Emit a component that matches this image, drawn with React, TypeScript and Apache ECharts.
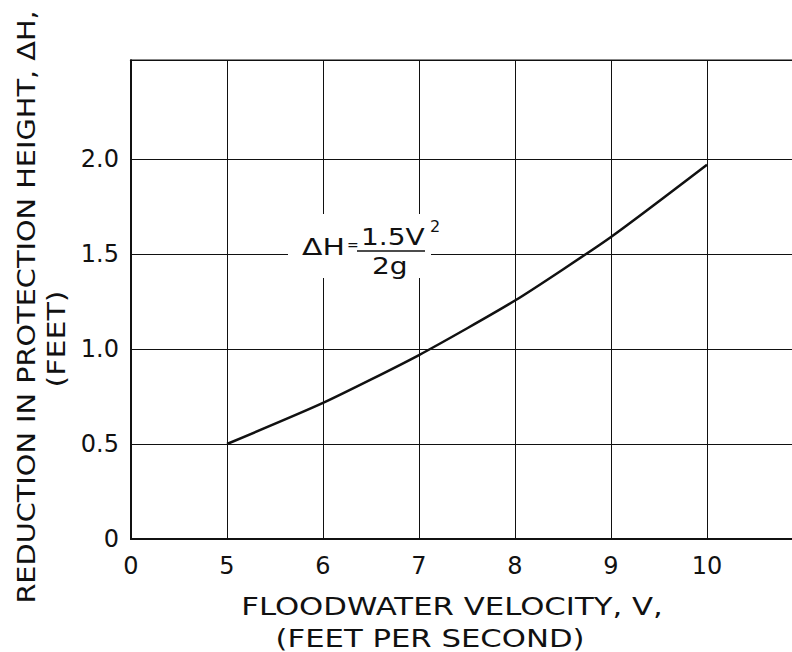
import React, { useEffect, useRef } from "react";
import * as echarts from "echarts";

// Data
const velocities = [5, 6, 7, 8, 9, 10];
const heightReduction = [0.5, 0.716, 0.968, 1.255, 1.59, 1.97];

// x axis: the axis is broken, position 4 is labelled "0"
const xTickValues = [4, 5, 6, 7, 8, 9, 10];
const xTickLabels = ["0", "5", "6", "7", "8", "9", "10"];
const yTickValues = [0, 0.5, 1.0, 1.5, 2.0];
const yTickLabels = ["0", "0.5", "1.0", "1.5", "2.0"];
const yGridValues = [0.5, 1.0, 1.5, 2.0];

const xTitle1 = "FLOODWATER VELOCITY, V,";
const xTitle2 = "(FEET PER SECOND)";
const yTitle1 = "REDUCTION IN PROTECTION HEIGHT, ΔH,";
const yTitle2 = "(FEET)";

const FONT = "DejaVu Sans";
const INK = "#111";

export default function App() {
  const ref = useRef<HTMLDivElement>(null);
  useEffect(() => {
    if (!ref.current) return;
    const chart = echarts.init(ref.current, undefined, { renderer: "svg" });
    const txt = (
      text: string,
      x: number,
      y: number,
      opts: { size?: number; scaleX?: number; rotation?: number; align?: string } = {}
    ) => ({
      type: "text",
      x,
      y,
      z: 100,
      scaleX: opts.scaleX ?? 1,
      rotation: opts.rotation ?? 0,
      style: {
        text,
        fill: INK,
        fontFamily: FONT,
        fontSize: opts.size ?? 25,
        align: opts.align ?? "center",
        verticalAlign: "middle",
      },
    });
    chart.setOption({
      animation: false,
      backgroundColor: "#fff",
      grid: {
        left: 131,
        right: 37,
        top: 60.2,
        bottom: 113,
        show: true,
        borderColor: INK,
        borderWidth: 1.5,
      },
      xAxis: {
        type: "value",
        min: 4,
        max: 11,
        interval: 1,
        axisLine: { show: true, lineStyle: { color: INK, width: 2 } },
        axisTick: { show: false },
        splitLine: { show: true, lineStyle: { color: INK, width: 1 } },
        axisLabel: {
          color: INK,
          fontFamily: FONT,
          fontSize: 24,
          margin: 15,
          formatter: (v: number) => {
            const i = xTickValues.indexOf(v);
            return i >= 0 ? xTickLabels[i] : "";
          },
        },
      },
      yAxis: {
        type: "value",
        min: 0,
        max: 2.52,
        interval: 0.5,
        axisLine: { show: true, lineStyle: { color: INK, width: 2 } },
        axisTick: { show: false },
        splitLine: { show: false },
        axisLabel: {
          color: INK,
          fontFamily: FONT,
          fontSize: 24,
          margin: 12,
          formatter: (v: number) => {
            const i = yTickValues.findIndex((t) => Math.abs(t - v) < 1e-6);
            return i >= 0 ? yTickLabels[i] : "";
          },
        },
      },
      series: [
        {
          type: "line",
          data: velocities.map((v, i) => [v, heightReduction[i]]),
          smooth: 0.2,
          showSymbol: false,
          lineStyle: { color: INK, width: 2.5 },
          markLine: {
            silent: true,
            symbol: ["none", "none"],
            label: { show: false },
            lineStyle: { color: INK, width: 1, type: "solid" },
            data: yGridValues.map((v) => ({ yAxis: v })),
          },
        },
      ],
      graphic: [
        // axis titles
        txt(xTitle1, 452, 607, { scaleX: 1.23 }),
        txt(xTitle2, 430, 638, { size: 24, scaleX: 1.28 }),
        txt(yTitle1, 26, 307, { scaleX: 1.15, rotation: Math.PI / 2 }),
        txt(yTitle2, 56, 339, { scaleX: 1.2, rotation: Math.PI / 2 }),
        // formula annotation
        {
          type: "rect",
          z: 90,
          shape: { x: 288, y: 214, width: 143, height: 64 },
          style: { fill: "#fff" },
        },
        txt("ΔH", 302, 247, { size: 23, scaleX: 1.3, align: "left" }),
        txt("=", 347, 245, { size: 14, align: "left" }),
        {
          type: "line",
          z: 100,
          shape: { x1: 357, y1: 251, x2: 425, y2: 251 },
          style: { stroke: INK, lineWidth: 1.5 },
        },
        txt("1.5V", 361, 237, { size: 23, scaleX: 1.22, align: "left" }),
        txt("2", 430, 226, { size: 16, align: "left" }),
        txt("2g", 372, 266, { size: 23, scaleX: 1.22, align: "left" }),
      ],
    });
    return () => chart.dispose();
  }, []);
  return (
    <div
      style={{
        position: "fixed",
        left: 0,
        top: 0,
        width: 792,
        height: 652,
        overflow: "hidden",
        background: "#fff",
      }}
    >
      <div ref={ref} style={{ width: 840, height: 652 }} />
    </div>
  );
}
